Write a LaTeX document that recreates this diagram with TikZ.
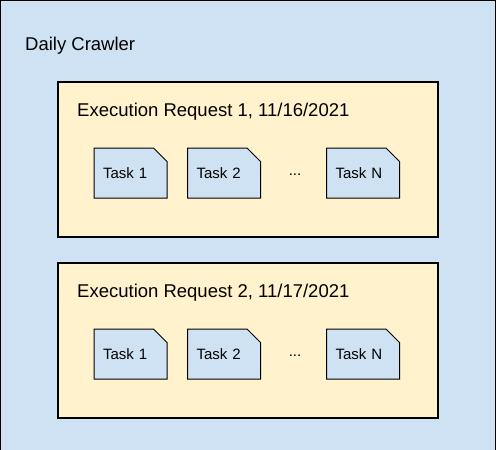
\documentclass[tikz,border=0pt]{standalone}
\usepackage{fontspec}
\setmainfont{Liberation Sans}
\usetikzlibrary{shapes.misc}
\definecolor{bgblue}{HTML}{CFE2F3}
\definecolor{reqyellow}{HTML}{FFF2CC}
\begin{document}
\begin{tikzpicture}[x=1pt,y=-1pt,
  reqbox/.style={draw=black, line width=1.3pt, fill=reqyellow},
  taskbox/.style={chamfered rectangle, chamfered rectangle corners=north east,
    chamfered rectangle xsep=8pt, chamfered rectangle ysep=8pt,
    draw=black, line width=1pt, fill=bgblue, minimum width=73pt, minimum height=50pt,
    inner sep=0pt, text width=55pt, align=left, font=\fontsize{15}{18}\selectfont},
  dotslbl/.style={inner sep=0pt, font=\fontsize{15}{18}\selectfont},
  lbl/.style={anchor=west, inner sep=0pt, font=\fontsize{18.5}{22}\selectfont}]
\useasboundingbox (0,0) rectangle (496,450);
\begin{scope}
\clip (0,0) rectangle (496,450);
\draw[fill=bgblue, line width=1.3pt] (0.8,0.8) rectangle (495.2,455);
\end{scope}
\node[lbl] (crawler) at (25,46) {Daily Crawler};
% request 1
\draw[reqbox] (58,82) rectangle (438,237);
\node[lbl] (req1) at (77,112) {Execution Request 1, 11/16/2021};
\node[taskbox] (r1t1) at (130.5,173) {Task 1};
\node[taskbox] (r1t2) at (224,173) {Task 2};
\node[dotslbl] (r1dots) at (295,174.5) {...};
\node[taskbox] (r1tn) at (363,173) {Task N};
% request 2
\draw[reqbox] (58,263) rectangle (438,418);
\node[lbl] (req2) at (77,293) {Execution Request 2, 11/17/2021};
\node[taskbox] (r2t1) at (130.5,354) {Task 1};
\node[taskbox] (r2t2) at (224,354) {Task 2};
\node[dotslbl] (r2dots) at (295,355.5) {...};
\node[taskbox] (r2tn) at (363,354) {Task N};
\end{tikzpicture}
\end{document}
